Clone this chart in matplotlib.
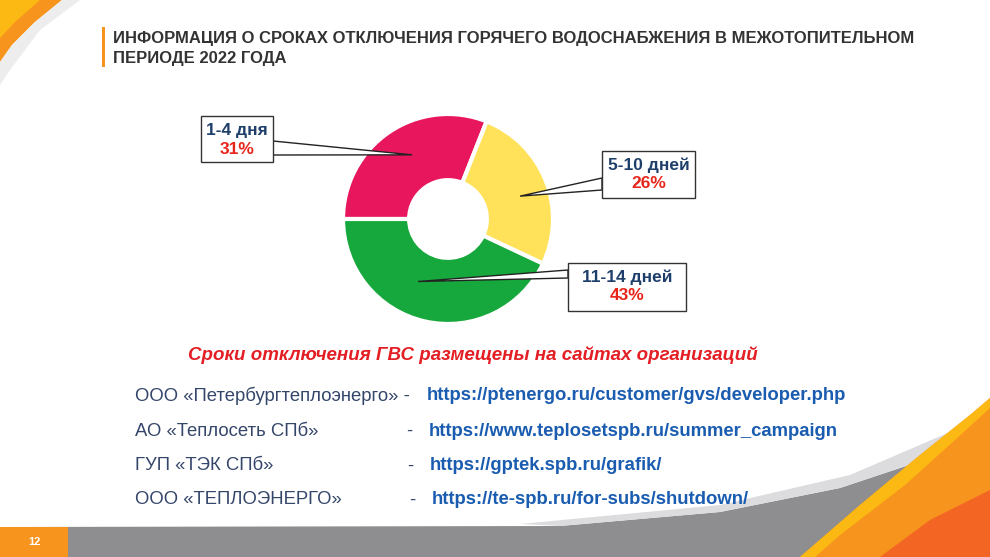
import numpy as np
import matplotlib
matplotlib.use("Agg")
import matplotlib.pyplot as plt
from matplotlib.patches import Polygon, Rectangle

# data
labels = ["1-4 дня", "5-10 дней", "11-14 дней"]
shares = [31, 26, 43]
colors = ["#E8175D", "#FFE25A", "#16A83C"]
title_lines = ["ИНФОРМАЦИЯ О СРОКАХ ОТКЛЮЧЕНИЯ ГОРЯЧЕГО ВОДОСНАБЖЕНИЯ В МЕЖОТОПИТЕЛЬНОМ",
               "ПЕРИОДЕ 2022 ГОДА"]
subtitle = "Сроки отключения ГВС размещены на сайтах организаций"
orgs = ["ООО «Петербургтеплоэнерго» -", "АО «Теплосеть СПб»", "ГУП «ТЭК СПб»", "ООО «ТЕПЛОЭНЕРГО»"]
urls = ["https://ptenergo.ru/customer/gvs/developer.php",
        "https://www.teplosetspb.ru/summer_campaign",
        "https://gptek.spb.ru/grafik/",
        "https://te-spb.ru/for-subs/shutdown/"]
page_no = "12"

W, H = 990, 557
fig = plt.figure(figsize=(W / 100, H / 100), dpi=100)
fig.patch.set_facecolor("white")


def pixel_axes(z):
    a = fig.add_axes([0, 0, 1, 1], zorder=z)
    a.set_xlim(0, W)
    a.set_ylim(H, 0)
    a.axis("off")
    a.patch.set_alpha(0)
    return a


# background layer in pixel coords (y down)
bg = pixel_axes(0)

# top-left swoosh
bg.add_patch(Polygon([(0, 0), (62, 0), (35, 22), (12, 45), (0, 62)], color="#F7941D", lw=0))
bg.add_patch(Polygon([(0, 0), (40, 0), (15, 22), (0, 38)], color="#FDB913", lw=0))
bg.add_patch(Polygon([(62, 0), (80, 0), (40, 30), (10, 70), (0, 85), (0, 62), (12, 45), (35, 22)],
                     color="#EDEDED", lw=0))

# bottom band and swooshes
bg.add_patch(Polygon([(0, 527), (560, 526), (720, 512), (840, 488), (930, 458), (990, 428),
                      (990, 557), (0, 557)], color="#8E8E90", lw=0))
bg.add_patch(Polygon([(520, 524), (720, 505), (850, 475), (950, 432), (990, 408),
                      (990, 428), (930, 458), (840, 488), (720, 512), (560, 526)],
                     color="#DCDCDE", lw=0))
bg.add_patch(Polygon([(800, 557), (860, 505), (920, 455), (970, 415), (990, 398),
                      (990, 557)], color="#F7941D", lw=0))
bg.add_patch(Polygon([(800, 557), (860, 505), (920, 455), (970, 415), (990, 398),
                      (990, 408), (955, 440), (905, 485), (840, 535), (815, 557)],
                     color="#FDB913", lw=0))
bg.add_patch(Polygon([(880, 557), (930, 520), (990, 490), (990, 557)], color="#F26522", lw=0))
bg.add_patch(Rectangle((0, 527), 68, 30, color="#F7941D", lw=0))
bg.text(34, 542, page_no, color="white", fontsize=8, fontweight="bold",
        ha="center", va="center", family="Liberation Sans")

# title
bg.add_patch(Rectangle((102, 27), 3, 40, color="#F7941D", lw=0))
for i, line in enumerate(title_lines):
    bg.text(113, 38 + i * 20, line, fontsize=12, fontweight="bold", color="#333333",
            ha="left", va="center", family="Liberation Sans")

# donut
cx, cy, R = 448, 219, 105
ax = fig.add_axes([(cx - R) / W, (H - cy - R) / H, 2 * R / W, 2 * R / H], zorder=1)
wedges, _ = ax.pie(shares, colors=colors, startangle=180, counterclock=False,
                   radius=1.0, wedgeprops=dict(width=0.63, edgecolor="white", linewidth=3))
ax.set_xlim(-1, 1)
ax.set_ylim(-1, 1)
ax.axis("off")

# callouts on top of the donut
top = pixel_axes(2)
boxes = [(201, 116, 273, 162), (602, 151, 695, 198), (568, 263, 686, 311)]
bases = [((273, 141), (273, 155)), ((602, 178), (602, 190)), ((568, 270), (568, 278))]
tip_r = [0.70, 0.72, 0.66]
tip_shift = [-5, -4, -13]
for w, box, base, lab, pct, r, sh in zip(wedges, boxes, bases, labels, shares, tip_r, tip_shift):
    ang = np.deg2rad((w.theta1 + w.theta2) / 2 + sh)
    disp = ax.transData.transform((r * np.cos(ang), r * np.sin(ang)))
    tx, ty = top.transData.inverted().transform(disp)
    top.add_patch(Polygon([base[0], (tx, ty), base[1]], closed=True, facecolor="white",
                          edgecolor="#222222", lw=1.0, zorder=3))
    x0, y0, x1, y1 = box
    top.add_patch(Rectangle((x0, y0), x1 - x0, y1 - y0, facecolor="white",
                            edgecolor="#333333", lw=1.0, zorder=4))
    xm = (x0 + x1) / 2
    top.text(xm, y0 + 14, lab, fontsize=12.5, fontweight="bold", color="#1F3F6B",
             ha="center", va="center", family="Liberation Sans", zorder=5)
    top.text(xm, y0 + 33, f"{pct}%", fontsize=12.5, fontweight="bold", color="#E8251B",
             ha="center", va="center", family="Liberation Sans", zorder=5)

# subtitle
bg.text(473, 355, subtitle, fontsize=13.5, fontweight="bold", style="italic", color="#E31E24",
        ha="center", va="center", family="Liberation Sans")

# list of organisations
row_y = [396, 431, 466, 500]
dash_x = [None, 409, 410, 412]
url_x = [427, 429, 430, 432]
for org, url, y, dx, ux in zip(orgs, urls, row_y, dash_x, url_x):
    bg.text(135, y, org, fontsize=13.3, color="#34466A", ha="left", va="center",
            family="Liberation Sans")
    if dx is not None:
        bg.text(dx, y, "-", fontsize=13.3, color="#34466A", ha="center", va="center",
                family="Liberation Sans")
    bg.text(ux, y, url, fontsize=13.3, fontweight="bold", color="#1A5CB0", ha="left",
            va="center", family="Liberation Sans")

fig.savefig("out.png", dpi=100)
